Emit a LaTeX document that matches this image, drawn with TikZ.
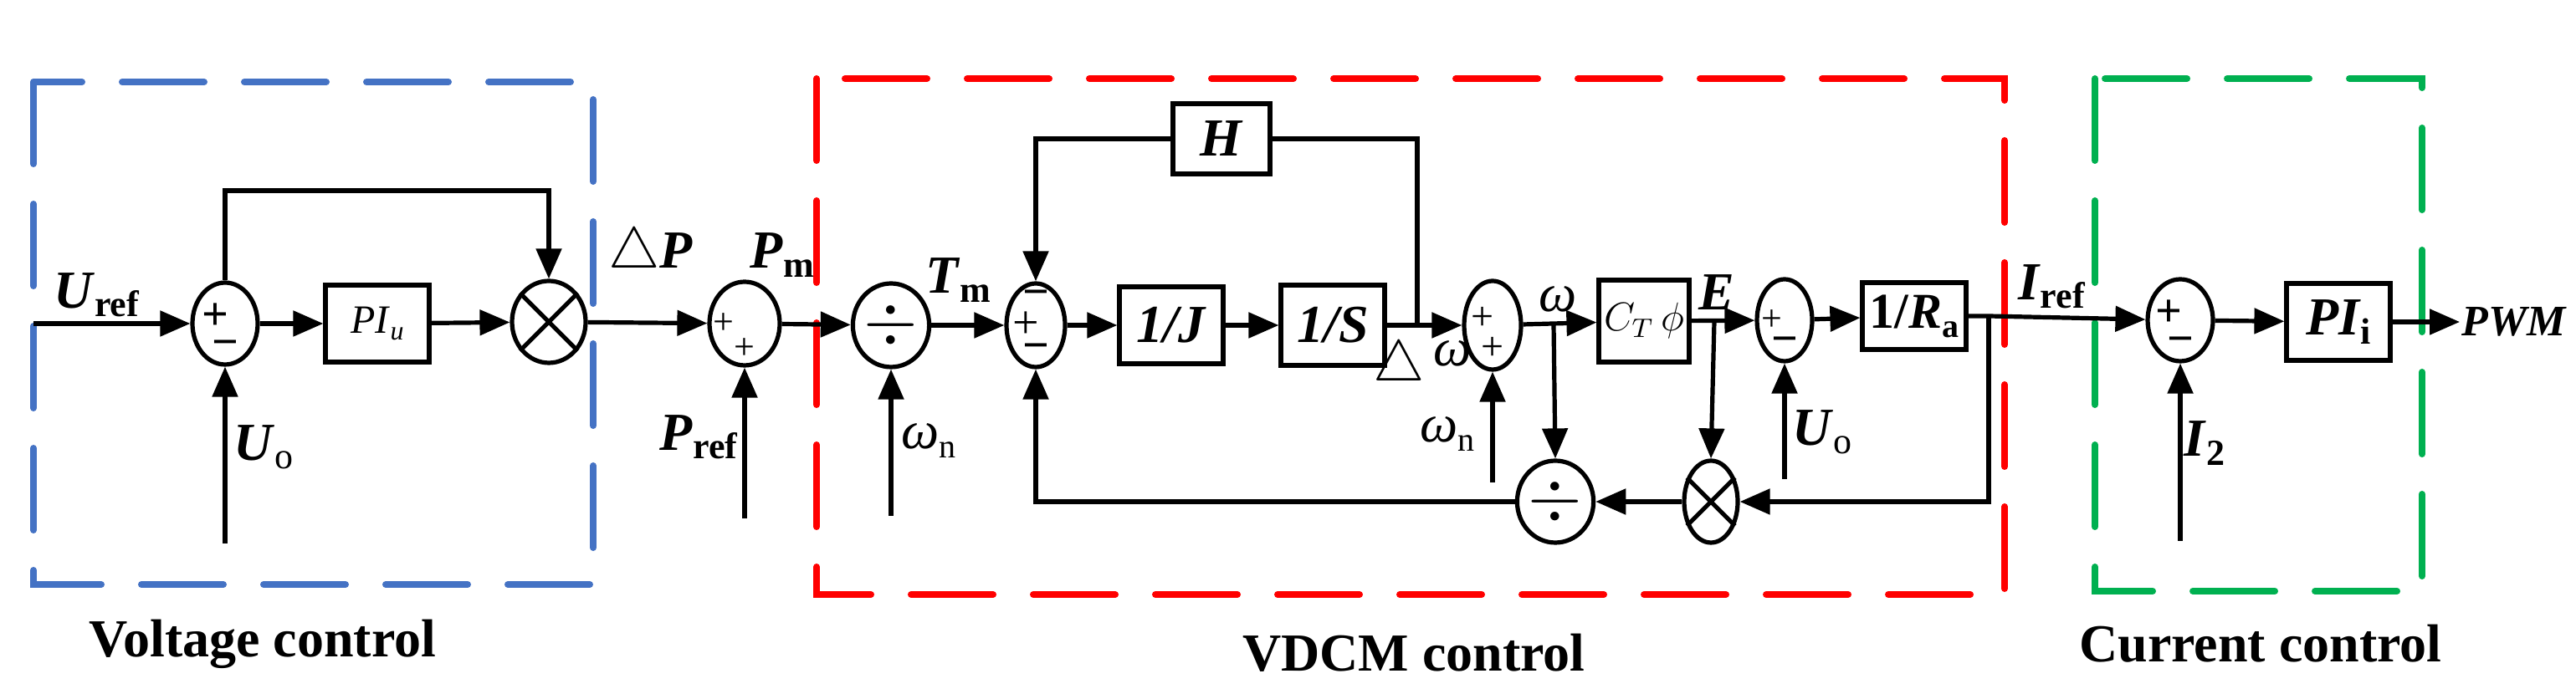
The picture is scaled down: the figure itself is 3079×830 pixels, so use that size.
\documentclass[tikz,border=0pt]{standalone}
\usepackage{fontspec}
\setmainfont{Liberation Serif}
\usetikzlibrary{arrows.meta,shapes.geometric,calc}
\newcommand{\sublbl}[2]{\textbf{\textit{#1}}\raisebox{-0.35ex}{\bfseries\fontsize{11}{12}\selectfont #2}}
\begin{document}
\begin{tikzpicture}[x=0.25pt,y=-0.25pt,
  line width=1.3pt,
  arr/.style={-{Triangle[length=9pt,width=7.5pt]}},
  blk/.style={draw,rectangle,inner sep=0pt,line width=1.3pt},
  ell/.style={draw,ellipse,inner sep=0pt,line width=1.3pt},
  lbl/.style={inner sep=0pt,font=\fontsize{16}{18}\selectfont},
  sgn/.style={inner sep=0pt,font=\fontsize{11}{11}\selectfont},
  bsgn/.style={inner sep=0pt,font=\fontsize{14}{14}\selectfont\bfseries},
  zone/.style={line width=2pt,dash pattern=on 24.5pt off 12pt,line cap=round},
  title/.style={inner sep=0pt,font=\fontsize{16}{18}\selectfont\bfseries}]
\useasboundingbox (0,0) rectangle (3079,830);
% zones
\draw[zone,color={rgb,255:red,68;green,114;blue,196}] (40,98) rectangle (709,699);
\draw[zone,color=red] (976,94) rectangle (2396,711);
\draw[zone,color={rgb,255:red,0;green,176;blue,80}] (2504,94) rectangle (2895,707);
\node[title] (t1) at (314,770) {Voltage control};
\node[title] (t2) at (1690,781) {VDCM control};
\node[title] (t3) at (2702,770) {Current control};
% nodes
\node[ell,minimum width=19.5pt,minimum height=24.5pt] (s1) at (269,387) {};
\node[blk,minimum width=31pt,minimum height=23pt] (piu) at (451,387) {\fontsize{12}{14}\selectfont\textit{PI}\raisebox{-0.4ex}{\textit{\footnotesize u}}};
\node[ell,minimum width=22pt,minimum height=24.5pt] (m1) at (656,385) {};
\node[ell,minimum width=21pt,minimum height=25pt] (s2) at (890,387) {};
\node[ell,minimum width=21pt,minimum height=25pt] (d1) at (1065,389) {\fontsize{20}{20}\selectfont$\div$};
\node[ell,minimum width=17.5pt,minimum height=25pt] (s3) at (1238,389) {};
\node[blk,minimum width=31pt,minimum height=23pt] (J) at (1400,389) {\fontsize{16}{18}\selectfont\textbf{\textit{1/J}}};
\node[blk,minimum width=31pt,minimum height=24pt] (S) at (1593,389) {\fontsize{16}{18}\selectfont\textbf{\textit{1/S}}};
\node[blk,minimum width=29pt,minimum height=21pt] (H) at (1460,166) {\fontsize{16}{18}\selectfont\textbf{\textit{H}}};
\node[ell,minimum width=17pt,minimum height=26.5pt] (s4) at (1784,389) {};
\node[blk,minimum width=27pt,minimum height=24.5pt] (ct) at (1965,384) {\fontsize{12}{14}\selectfont$C_T\,\phi$};
\node[ell,minimum width=16.5pt,minimum height=24.5pt] (s5) at (2133,383) {};
\node[blk,minimum width=31pt,minimum height=20pt] (ra) at (2288,378) {\fontsize{15}{18}\selectfont\textbf{1/\textit{R}}\raisebox{-0.4ex}{\bfseries\fontsize{10}{11}\selectfont a}};
\node[ell,minimum width=19.5pt,minimum height=24.5pt] (s6) at (2606,383) {};
\node[blk,minimum width=31pt,minimum height=23pt] (pii) at (2795,385) {\fontsize{16}{18}\selectfont\sublbl{PI}{i}};
\node[ell,minimum width=19pt,minimum height=24.5pt] (d2) at (1859,600) {\fontsize{20}{20}\selectfont$\div$};
\node[ell,minimum width=16pt,minimum height=24.5pt] (m2) at (2045,600) {};
\draw (m1.45)--(m1.225) (m1.135)--(m1.315);
\draw (m2.45)--(m2.225) (m2.135)--(m2.315);
% signs
\node[bsgn] (p1) at ($(s1)+(-12,-8)$) {+};
\node[bsgn] (n1) at ($(s1)+(0,30)$) {\textminus};
\node[sgn] (p2) at ($(s2)+(-25,0)$) {+};
\node[sgn] (p2b) at ($(s2)+(0,30)$) {+};
\node[bsgn] (n3a) at ($(s3)+(0,-32)$) {\textminus};
\node[sgn] (p3) at ($(s3)+(-12,0)$) {\fontsize{14}{14}\selectfont +};
\node[bsgn] (n3b) at ($(s3)+(0,32)$) {\textminus};
\node[sgn] (p4) at ($(s4)+(-12,-8)$) {\fontsize{12}{12}\selectfont +};
\node[sgn] (p4b) at ($(s4)+(0,28)$) {\fontsize{12}{12}\selectfont +};
\node[sgn] (p5) at ($(s5)+(-15,0)$) {+};
\node[bsgn] (n5) at ($(s5)+(0,30)$) {\textminus};
\node[bsgn] (p6) at ($(s6)+(-14,-8)$) {+};
\node[bsgn] (n6) at ($(s6)+(0,30)$) {\textminus};
% labels
\node[lbl] (lUref) at (115,353) {\sublbl{U}{ref}};
\node[lbl] (lUo) at (315,535) {\textbf{\textit{U}}\raisebox{-0.35ex}{\fontsize{11}{12}\selectfont o}};
\node[lbl] (ldP) at (778,303) {$\triangle$\textbf{\textit{P}}};
\node[lbl] (lPm) at (935,305) {\sublbl{P}{m}};
\node[lbl] (lPref) at (835,523) {\sublbl{P}{ref}};
\node[lbl] (lTm) at (1145,335) {\sublbl{T}{m}};
\node[lbl] (lwn1) at (1110,527) {\textit{ω}\raisebox{-0.35ex}{\fontsize{10}{12}\selectfont n}};
\node[lbl] (ldw) at (1700,438) {$\triangle$\,\raisebox{0.6ex}{\textit{ω}}};
\node[lbl] (lw) at (1862,358) {\textit{ω}};
\node[lbl] (lwn2) at (1730,519) {\textit{ω}\raisebox{-0.35ex}{\fontsize{10}{12}\selectfont n}};
\node[lbl] (lE) at (2052,350) {\textbf{\textit{E}}};
\node[lbl] (lUo2) at (2178,517) {\textbf{\textit{U}}\raisebox{-0.35ex}{\fontsize{11}{12}\selectfont o}};
\node[lbl] (lIref) at (2452,343) {\sublbl{I}{ref}};
\node[lbl] (lI2) at (2635,530) {\sublbl{I}{2}};
\node[lbl,anchor=west,font=\fontsize{13}{15}\selectfont] (pwm) at (2940,385) {\textbf{\textit{PWM}}};
% coordinates
\coordinate (uin) at (40,387);
\coordinate (fb) at (656,228);
\coordinate (uo) at (269,650);
\coordinate (pref) at (890,620);
\coordinate (wn1) at (1065,617);
\coordinate (hb) at (1694,389);
\coordinate (ht) at (1694,166);
\coordinate (wn2) at (1784,577);
\coordinate (bw) at (1857,389);
\coordinate (be) at (2049,384);
\coordinate (uo2) at (2133,573);
\coordinate (bi) at (2377,378);
\coordinate (bi2) at (2377,600);
\coordinate (i2) at (2606,647);
% connectors
\draw[arr] (uin) -- (s1);
\draw[arr] (s1) -- (piu);
\draw[arr] (piu) -- (m1);
\draw[arr] (s1.north) |- (fb) -- (m1.north);
\draw[arr] (uo) -- (s1.south);
\draw[arr] (m1) -- (s2);
\draw[arr] (pref) -- (s2.south);
\draw[arr] (s2) -- (d1);
\draw[arr] (wn1) -- (d1.south);
\draw[arr] (d1) -- (s3);
\draw[arr] (s3) -- (J);
\draw[arr] (J) -- (S);
\draw[arr] (S) -- (s4);
\draw (hb) -- (ht) -- (H.east);
\draw[arr] (H.west) -| (s3.north);
\draw[arr] (wn2) -- (s4.south);
\draw[arr] (s4) -- (ct);
\draw[arr] (bw) -- (d2.north);
\draw[arr] (ct) -- (s5);
\draw[arr] (be) -- (m2.north);
\draw[arr] (uo2) -- (s5.south);
\draw[arr] (s5) -- (ra);
\draw[arr] (ra.east) -- (bi) -- (s6);
\draw[arr] (bi) -- (bi2) -- (m2.east);
\draw[arr] (m2) -- (d2);
\draw[arr] (d2.west) -| (s3.south);
\draw[arr] (i2) -- (s6.south);
\draw[arr] (s6) -- (pii);
\draw[arr] (pii) -- (pwm);
\end{tikzpicture}
\end{document}
